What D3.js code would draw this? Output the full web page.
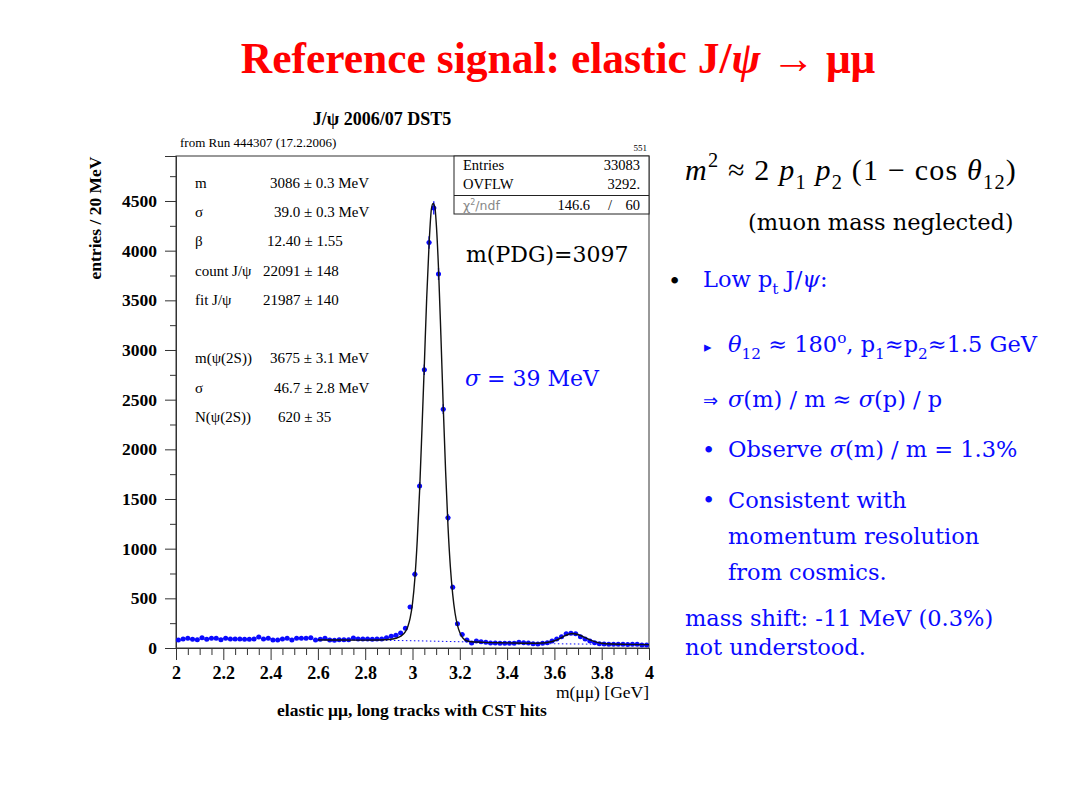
<!DOCTYPE html>
<html><head><meta charset="utf-8">
<script src="https://cdn.jsdelivr.net/npm/d3@7"></script>
<style>html,body{margin:0;padding:0;background:#fff;}svg{display:block;}</style>
</head><body>
<svg id="c" width="1080" height="810"></svg>
<script>
// ---------------- data ----------------
const binLow = 2.0, binWidth = 0.02;
const counts = [
 81, 91, 97, 87, 84, 104, 87, 97, 97, 84,
 97, 91, 91, 91, 87, 87, 91, 111, 91, 97,
 81, 81, 91, 97, 81, 97, 97, 97, 104, 81,
 87, 97, 81, 77, 84, 84, 84, 101, 91, 91,
 91, 87, 91, 91, 104,
 118, 128, 150, 200, 413,
 742, 1631, 2800, 4082, 4430, 3766, 2404, 1312, 612, 245,
 135, 80, 50, 70, 64, 57, 50, 50, 47, 47,
 47, 47, 57, 54, 50, 44, 40, 47, 54, 70,
 90, 114, 144, 148, 144, 114, 90, 70, 54, 44,
 40, 37, 37, 37, 37, 34, 37, 37, 30, 30
];
const fitX = [2.60,2.70,2.80,2.86,2.90,2.93,2.95,2.97,2.98,2.99,3.00,3.01,3.02,3.03,3.04,3.05,3.06,3.07,3.08,3.087,3.095,3.10,3.11,3.12,3.13,3.14,3.15,3.16,3.17,3.18,3.19,3.20,3.21,3.22,3.24,3.27,3.30,3.40,3.50,3.55,3.58,3.60,3.62,3.64,3.66,3.675,3.69,3.71,3.73,3.75,3.77,3.80,3.85,3.90,4.00];
const fitY = [82,80,79,80,85,98,118,165,215,300,450,700,1080,1580,2200,2850,3520,4060,4420,4475,4430,4290,3820,3150,2430,1780,1230,820,540,350,230,155,110,84,66,60,57,52,48,50,60,73,93,118,138,146,141,126,104,82,64,48,40,37,34];
const bgX = [2.60,2.80,3.00,3.20,3.40,3.50,3.60,3.80,4.00];
const bgY = [82,79,73,63,52,47,43,38,34];
const yTickValues = [0,500,1000,1500,2000,2500,3000,3500,4000,4500];
const xTickValues = [2,2.2,2.4,2.6,2.8,3,3.2,3.4,3.6,3.8,4];
const xTickLabels = ["2","2.2","2.4","2.6","2.8","3","3.2","3.4","3.6","3.8","4"];
const statLabels = ["m","σ","β","count J/ψ","fit J/ψ","","m(ψ(2S))","σ","N(ψ(2S))"];
const statValues = ["3086 ± 0.3 MeV","39.0 ± 0.3 MeV","12.40 ± 1.55","22091 ± 148","21987 ± 140","","3675 ± 3.1 MeV","46.7 ± 2.8 MeV","620 ± 35"];
const boxLabels = ["Entries","OVFLW"];
const boxValues = ["33083","3292."];
const chi2 = "146.6", ndf = "60";

// ---------------- layout ----------------
const svg = d3.select("#c");
const L = 176, R = 649, T = 156, B = 648;
const x = d3.scaleLinear().domain([2,4]).range([L,R]);
const y = d3.scaleLinear().domain([0,4953]).range([B,T]);
const ROOT = "'Liberation Serif', 'Times New Roman', serif";
const SLIDE = "'DejaVu Serif', serif";
const BLUE = "#0a0aff";

// title
svg.append("text").attr("x",558).attr("y",73).attr("text-anchor","middle")
  .attr("font-family",ROOT).attr("font-weight","bold").attr("font-size",43.5)
  .attr("fill","#f00")
  .call(t=>{t.append("tspan").text("Reference signal: elastic J/");
            t.append("tspan").attr("font-style","italic").text("ψ");
            t.append("tspan").text(" → μμ");});

// plot header
svg.append("text").attr("x",382).attr("y",125).attr("text-anchor","middle")
  .attr("font-family",ROOT).attr("font-weight","bold").attr("font-size",18).text("J/ψ 2006/07 DST5");
svg.append("text").attr("x",180).attr("y",147).attr("font-family",ROOT).attr("font-size",13).text("from Run 444307 (17.2.2006)");
svg.append("text").attr("x",647).attr("y",151).attr("text-anchor","end").attr("font-family",ROOT).attr("font-size",9).text("551");

// frame
svg.append("rect").attr("x",L).attr("y",T).attr("width",R-L).attr("height",B-T)
  .attr("fill","none").attr("stroke","#333").attr("stroke-width",1);

// axes
const yMinor = d3.range(250,4953,500);
const xMinor = d3.range(2.05,4,0.05).filter(v=>Math.abs(v*5-Math.round(v*5))>0.01);
const gy = svg.append("g").attr("transform",`translate(${L},0)`);
gy.call(d3.axisLeft(y).tickValues(yTickValues).tickSize(11).tickPadding(8).tickFormat(d3.format("d")));
gy.append("g").call(d3.axisLeft(y).tickValues(yMinor).tickSize(6).tickFormat(""));
gy.selectAll("path.domain").attr("stroke","#333");
gy.selectAll("line").attr("stroke","#333");
gy.selectAll("text").attr("font-family",ROOT).attr("font-weight","bold").attr("font-size",17.5).attr("fill","#000");

const gx = svg.append("g").attr("transform",`translate(0,${B})`);
gx.call(d3.axisBottom(x).tickValues(xTickValues).tickSize(12).tickPadding(6).tickFormat((d,i)=>xTickLabels[i]));
gx.append("g").call(d3.axisBottom(x).tickValues(xMinor).tickSize(7).tickFormat(""));
gx.selectAll("path.domain").attr("stroke","#333");
gx.selectAll("line").attr("stroke","#333");
gx.selectAll("text").attr("font-family",ROOT).attr("font-weight","bold").attr("font-size",18).attr("fill","#000");

svg.append("text").attr("x",R).attr("y",698).attr("text-anchor","end").attr("font-family",ROOT).attr("font-size",17.5).text("m(μμ) [GeV]");
svg.append("text").attr("x",412).attr("y",716).attr("text-anchor","middle").attr("font-family",ROOT).attr("font-weight","bold").attr("font-size",17.5).text("elastic μμ, long tracks with CST hits");
svg.append("text").attr("transform","translate(101,218) rotate(-90)").attr("text-anchor","middle")
  .attr("font-family",ROOT).attr("font-weight","bold").attr("font-size",17.5).text("entries / 20 MeV");

// background (dotted) and fit
const pts = (xs,ys)=>xs.map((v,i)=>[v,ys[i]]);
const line = d3.line().x(d=>x(d[0])).y(d=>y(d[1])).curve(d3.curveMonotoneX);
svg.append("path").attr("d",line(pts(bgX,bgY))).attr("fill","none").attr("stroke",BLUE).attr("stroke-width",1).attr("stroke-dasharray","1.5,2.5");

// data points
const data = counts.map((v,i)=>({c: binLow + binWidth*(i+0.5), v}));
const gd = svg.append("g").attr("stroke",BLUE).attr("fill",BLUE);
gd.selectAll("line.h").data(data).enter().append("line")
  .attr("x1",d=>x(d.c-binWidth/2)).attr("x2",d=>x(d.c+binWidth/2))
  .attr("y1",d=>y(d.v)).attr("y2",d=>y(d.v)).attr("stroke-width",1.3);
gd.selectAll("line.v").data(data).enter().append("line")
  .attr("x1",d=>x(d.c)).attr("x2",d=>x(d.c))
  .attr("y1",d=>y(d.v+Math.sqrt(d.v))).attr("y2",d=>y(Math.max(0,d.v-Math.sqrt(d.v)))).attr("stroke-width",1.3);
gd.selectAll("circle").data(data).enter().append("circle")
  .attr("cx",d=>x(d.c)).attr("cy",d=>y(d.v)).attr("r",2.5).attr("stroke","none");

svg.append("path").attr("d",line(pts(fitX,fitY))).attr("fill","none").attr("stroke","#111").attr("stroke-width",1.4);

// left stats
const statY = [183,212,241,271,300,0,358,388,417];
const statVX = [270,274,267,263,263,0,270,274,278];
statLabels.forEach((s,i)=>{ if(!s) return;
  svg.append("text").attr("x",195).attr("y",statY[i]+5).attr("font-family",ROOT).attr("font-size",15).text(s);
  svg.append("text").attr("x",statVX[i]).attr("y",statY[i]+5).attr("font-family",ROOT).attr("font-size",15).text(statValues[i]);
});

// right stats box
svg.append("rect").attr("x",454).attr("y",T).attr("width",R-454).attr("height",58).attr("fill","#fff").attr("stroke","#222");
svg.append("line").attr("x1",454).attr("x2",R).attr("y1",195.5).attr("y2",195.5).attr("stroke","#222");
const boxY = [170,189];
boxLabels.forEach((s,i)=>{
  svg.append("text").attr("x",463).attr("y",boxY[i]).attr("font-family",ROOT).attr("font-size",14.5).text(s);
  svg.append("text").attr("x",640).attr("y",boxY[i]).attr("text-anchor","end").attr("font-family",ROOT).attr("font-size",14.5).text(boxValues[i]);
});
svg.append("text").attr("x",463).attr("y",210).attr("font-family","'DejaVu Sans', sans-serif").attr("font-size",12.5).attr("fill","#888")
  .call(t=>{t.append("tspan").text("χ");t.append("tspan").attr("dy",-5).attr("font-size",8).text("2");t.append("tspan").attr("dy",5).text("/ndf");});
svg.append("text").attr("x",590).attr("y",210).attr("text-anchor","end").attr("font-family",ROOT).attr("font-size",14.5).text(chi2);
svg.append("text").attr("x",610).attr("y",210).attr("text-anchor","middle").attr("font-family",ROOT).attr("font-size",14.5).text("/");
svg.append("text").attr("x",640).attr("y",210).attr("text-anchor","end").attr("font-family",ROOT).attr("font-size",14.5).text(ndf);

// rich text helper
function rich(x0,y0,segs,opt){
  const t = svg.append("text").attr("x",x0).attr("y",y0).attr("font-family",opt.family||SLIDE)
    .attr("font-size",opt.size).attr("fill",opt.color||"#000");
  if(opt.ls) t.attr("letter-spacing",opt.ls);
  let off=0;
  segs.forEach(s=>{
    const target = s.sub? opt.size*0.3 : s.sup? -opt.size*0.42 : 0;
    const sp = t.append("tspan").attr("dy",target-off).text(s.t);
    off = target;
    if(s.sub||s.sup) sp.attr("font-size",opt.size*0.68);
    if(s.it) sp.attr("font-style","italic");
  });
  return t;
}

// in-plot annotations
rich(466,262,[{t:"m(PDG)=3097"}],{size:22});
rich(465,386,[{t:"σ",it:true},{t:" = 39 MeV"}],{size:22,color:BLUE});

// right-hand text
rich(685,180,[{t:"m",it:true},{t:"2",sup:true},{t:" ≈ 2 "},{t:"p",it:true},{t:"1",sub:true},{t:" "},{t:"p",it:true},{t:"2",sub:true},{t:" (1 − cos "},{t:"θ",it:true},{t:"12",sub:true},{t:")"}],{size:30,family:ROOT,ls:1.2});
rich(748,230,[{t:"(muon mass neglected)"}],{size:22.5});
rich(668,289,[{t:"•"}],{size:22.5});
rich(703,287,[{t:"Low p"},{t:"t",sub:true},{t:" J/"},{t:"ψ",it:true},{t:":"}],{size:22.5,color:BLUE});
rich(704,352,[{t:"▸"}],{size:15,color:BLUE,family:"'DejaVu Sans', sans-serif"});
rich(728,352,[{t:"θ",it:true},{t:"12",sub:true},{t:" ≈ 180"},{t:"o",sup:true},{t:", p"},{t:"1",sub:true},{t:"≈p"},{t:"2",sub:true},{t:"≈1.5 GeV"}],{size:22.5,color:BLUE});
rich(703,407,[{t:"⇒"}],{size:18,color:BLUE,family:"'DejaVu Sans', sans-serif"});
rich(728,407,[{t:"σ",it:true},{t:"(m) / m ≈ "},{t:"σ",it:true},{t:"(p) / p"}],{size:22.5,color:BLUE});
rich(702,458,[{t:"•"}],{size:22.5,color:BLUE});
rich(728,457,[{t:"Observe "},{t:"σ",it:true},{t:"(m) / m = 1.3%"}],{size:22.5,color:BLUE});
rich(702,508,[{t:"•"}],{size:22.5,color:BLUE});
rich(728,508,[{t:"Consistent with"}],{size:22.5,color:BLUE});
rich(728,544,[{t:"momentum resolution"}],{size:22.5,color:BLUE});
rich(728,580,[{t:"from cosmics."}],{size:22.5,color:BLUE});
rich(685,626,[{t:"mass shift: -11 MeV (0.3%)"}],{size:22.5,color:BLUE});
rich(685,655,[{t:"not understood."}],{size:22.5,color:BLUE});
</script>
</body></html>
